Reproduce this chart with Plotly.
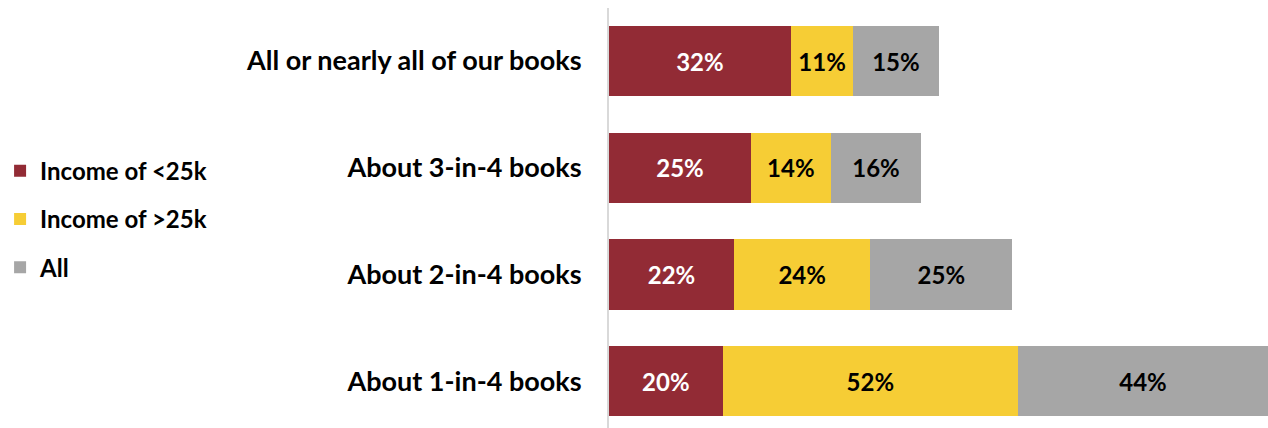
import plotly.graph_objects as go

categories = ["All or nearly all of our books", "About 3-in-4 books", "About 2-in-4 books", "About 1-in-4 books"]
income_lt25k = [32, 25, 22, 20]
income_gt25k = [11, 14, 24, 52]
all_resp = [15, 16, 25, 44]

series = [
    ("Income of <25k", income_lt25k, "#922B35", "white"),
    ("Income of >25k", income_gt25k, "#F6CD35", "black"),
    ("All", all_resp, "#A6A6A6", "black"),
]

FONT = "Lato"
fig = go.Figure()
for i, (name, vals, color, tcolor) in enumerate(series):
    fig.add_trace(go.Bar(
        y=categories, x=vals, name=name, orientation="h",
        marker=dict(color=color, line=dict(width=0)),
        text=[f"{v}%" for v in vals], textposition="inside",
        insidetextanchor="middle", textangle=0,
        textfont=dict(family=FONT, size=24, color=tcolor, weight="bold"),
        legendgroup=f"g{i}", hoverinfo="skip",
    ))

fig.update_layout(
    barmode="stack", bargap=0.34,
    width=1268, height=428,
    margin=dict(l=609, r=0, t=8, b=0),
    plot_bgcolor="white", paper_bgcolor="white",
    font=dict(family=FONT, color="black"),
    legend=dict(
        x=-0.924, xanchor="left", y=0.665, yanchor="top",
        traceorder="grouped", tracegroupgap=14,
        font=dict(family=FONT, size=24, color="black", weight="bold"),
        bgcolor="rgba(0,0,0,0)",
    ),
    uniformtext=dict(minsize=8, mode="show"),
)
fig.update_xaxes(range=[0, 116], showgrid=False, zeroline=False, showticklabels=False,
                 showline=False, fixedrange=True)
fig.update_yaxes(categoryorder="array", categoryarray=categories,
                 range=[3.44, -0.497], showgrid=False, zeroline=False,
                 showline=True, linecolor="#D9D9D9", linewidth=2,
                 ticks="", ticklabelstandoff=20, automargin=False,
                 tickfont=dict(family=FONT, size=27, color="black", weight="bold"))

fig.write_html("out.html", config={"displayModeBar": False},
               post_script="document.body.style.margin='0';")
